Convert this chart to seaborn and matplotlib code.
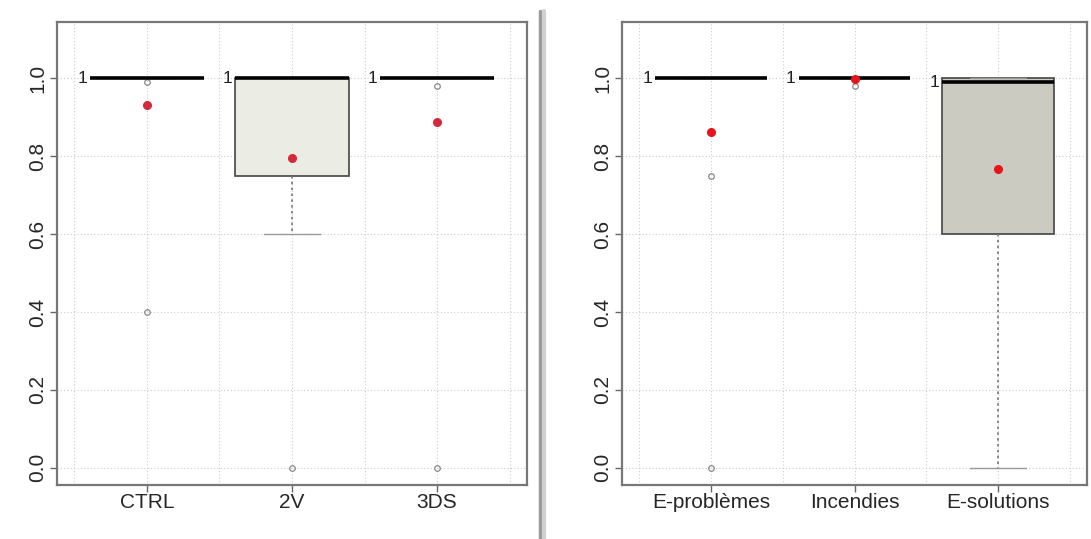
import numpy as np
import pandas as pd
import matplotlib.pyplot as plt
import seaborn as sns
from matplotlib.lines import Line2D

# Données
groupes_g = ["CTRL", "2V", "3DS"]
ctrl = [0.4, 0.99, 1, 1, 1, 1, 1, 1, 1]
v2 = [0.0, 0.6, 0.75, 0.8, 1, 1, 1, 1, 1]
ds3 = [0.0, 0.98, 1, 1, 1, 1, 1, 1, 1]

groupes_d = ["E-problèmes", "Incendies", "E-solutions"]
eprob = [0.0, 0.75, 1, 1, 1, 1, 1, 1, 1]
incend = [0.98, 1, 1, 1, 1, 1, 1, 1, 1]
esol = [0.0, 0.5, 0.6, 0.8, 0.99, 1, 1, 1, 1]

couleur_g = "#ECEDE2"
couleur_d = "#CCCDC0"

def long_df(groupes, series):
    rows = []
    for g, vals in zip(groupes, series):
        for v in vals:
            rows.append((g, v))
    return pd.DataFrame(rows, columns=["groupe", "valeur"])

sns.set_style("white")
plt.rcParams["font.family"] = ["Liberation Sans", "DejaVu Sans"]

fig = plt.figure(figsize=(10.91, 5.39), dpi=100)
ax1 = fig.add_axes([57 / 1091, 54 / 539, 470 / 1091, 463 / 539])
ax2 = fig.add_axes([622 / 1091, 54 / 539, 465 / 1091, 463 / 539])

def panneau(ax, groupes, series, couleur, mean_col):
    df = long_df(groupes, series)
    sns.boxplot(data=df, x="groupe", y="valeur", order=groupes, hue="groupe",
                palette=[couleur] * len(groupes), legend=False, width=0.78,
                whis=1.5, showmeans=True, ax=ax, linewidth=1.2,
                boxprops=dict(edgecolor="#444444"),
                medianprops=dict(color="black", linewidth=2.6),
                whiskerprops=dict(color="#777777", linestyle=(0, (1.5, 2)), linewidth=1.2),
                capprops=dict(color="#999999", linewidth=1),
                flierprops=dict(marker="o", markersize=4, markerfacecolor="none",
                                markeredgecolor="#888888", markeredgewidth=0.9),
                meanprops=dict(marker="o", markersize=5.5, markerfacecolor=mean_col,
                               markeredgecolor=mean_col))
    medianes = df.groupby("groupe")["valeur"].median()
    for i, g in enumerate(groupes):
        ax.text(i - 0.41, medianes[g], "1", ha="right", va="center", fontsize=12.5, color="#222222")
    ax.set_xlim(-0.62, 2.62)
    ax.set_ylim(-0.044, 1.144)
    ax.set_yticks([0.0, 0.2, 0.4, 0.6, 0.8, 1.0])
    ax.set_yticklabels(["0.0", "0.2", "0.4", "0.6", "0.8", "1.0"], rotation=90, va="center")
    ax.set_xticks([-0.5, 0.5, 1.5, 2.5], minor=True)
    ax.grid(True, which="both", color="#cccccc", linestyle=(0, (1, 2)), linewidth=0.8)
    ax.set_axisbelow(True)
    ax.tick_params(axis="both", which="major", length=5, width=1, color="#666666",
                   labelsize=15, direction="out", left=True, bottom=True, pad=2)
    ax.tick_params(axis="x", which="major", pad=1)
    ax.tick_params(axis="x", which="minor", length=0)
    ax.set_xlabel("")
    ax.set_ylabel("")
    for s in ax.spines.values():
        s.set_color("#777777")
        s.set_linewidth(1.6)

panneau(ax1, groupes_g, [ctrl, v2, ds3], couleur_g, "#d42a3c")
panneau(ax2, groupes_d, [eprob, incend, esol], couleur_d, "#e8141c")

# ombre à droite du panneau de gauche
fig.add_artist(Line2D([540 / 1091, 540 / 1091], [0, 0.98], transform=fig.transFigure,
                      color="#999999", linewidth=2.5))
fig.add_artist(Line2D([543.5 / 1091, 543.5 / 1091], [0, 0.98], transform=fig.transFigure,
                      color="#d0d0d0", linewidth=3))

fig.savefig("out.png", dpi=100)
